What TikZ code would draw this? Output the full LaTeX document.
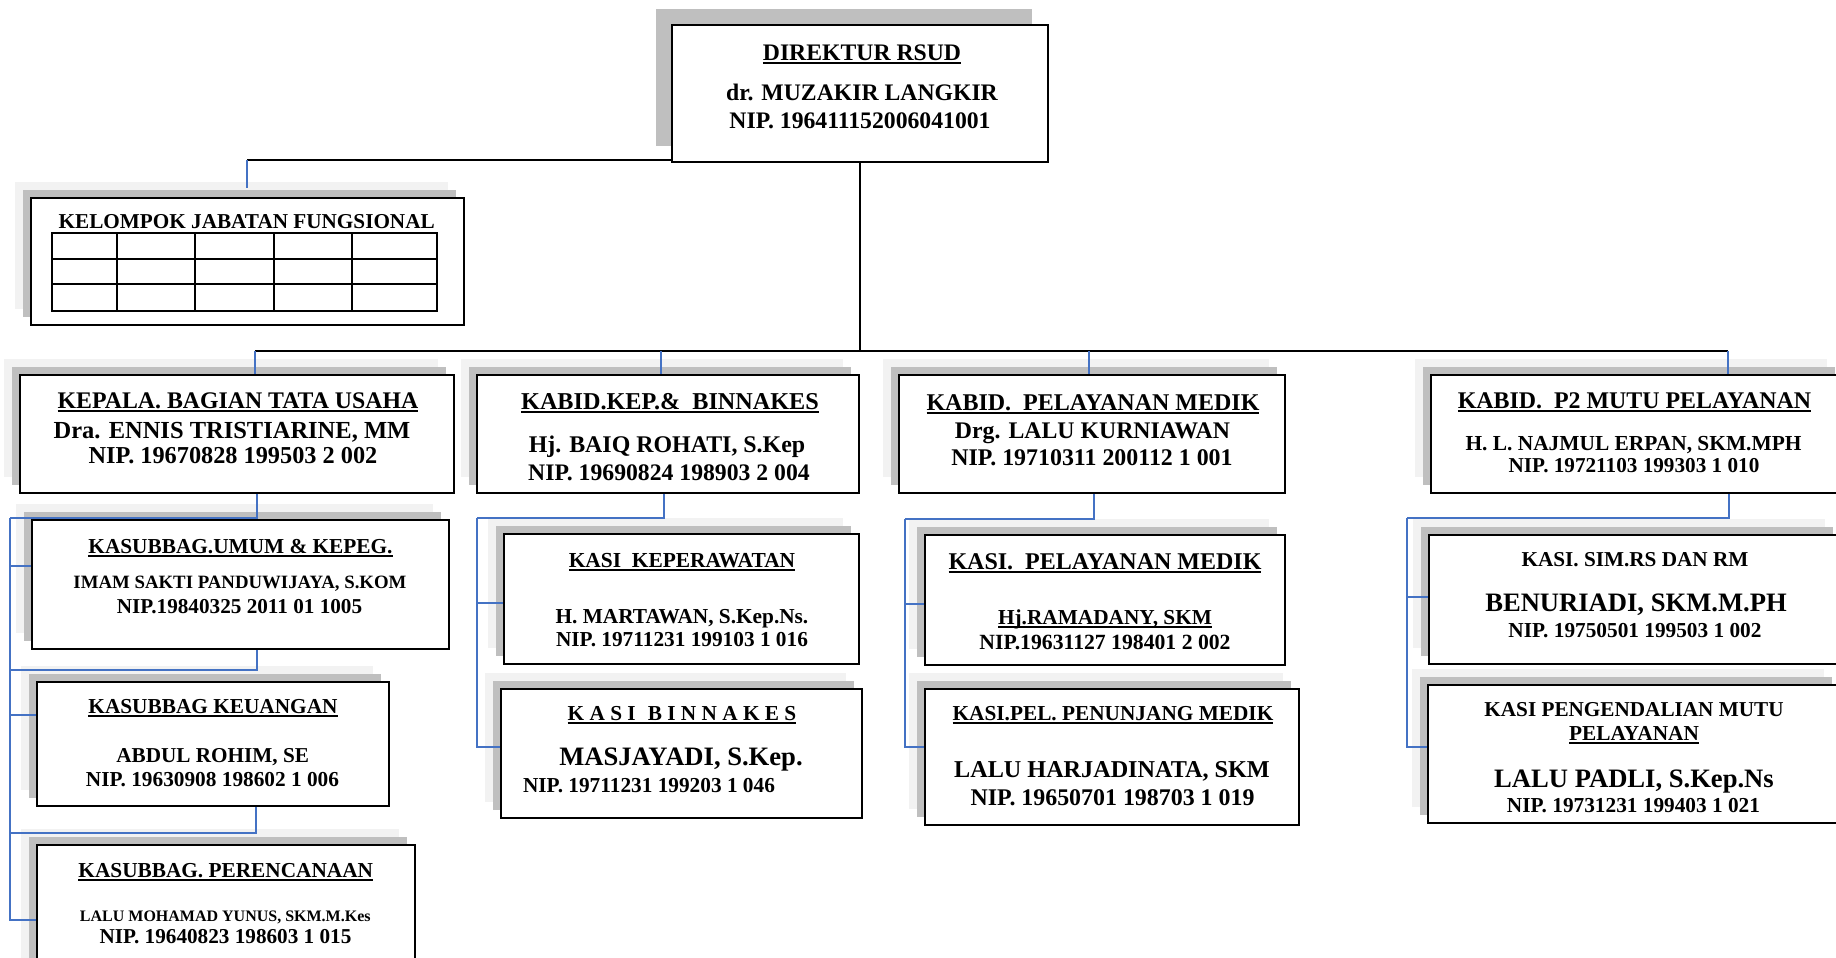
\documentclass[tikz,border=0pt]{standalone}
\usepackage{fontspec}
\setmainfont{Liberation Serif}
\usetikzlibrary{shadows}
\definecolor{shadelight}{HTML}{F2F2F2}
\definecolor{shadedark}{HTML}{BFBFBF}
\definecolor{linkblue}{HTML}{4472C4}
\tikzstyle{box} = [draw, line width=1.6pt, fill=white, inner sep=0pt,
    general shadow={fill=shadelight, shadow xshift=-16pt, shadow yshift=16pt},
    general shadow={fill=shadedark, shadow xshift=-8pt, shadow yshift=8pt}]
\tikzstyle{dirbox} = [draw, line width=1.6pt, fill=white, inner sep=0pt,
    general shadow={fill=shadedark, shadow xshift=-16pt, shadow yshift=16pt}]
\tikzstyle{txt} = [anchor=base, inner sep=0pt, font=\bfseries]
\tikzstyle{link} = [draw=linkblue, line width=1.8pt]
\tikzstyle{trunk} = [draw=black, line width=2pt]
\newcommand\fs[1]{\fontsize{#1}{#1}\selectfont}
\newcommand\undl[1]{\setbox0\hbox{#1}\rlap{\rule[-3.5pt]{\wd0}{1.6pt}}\box0}

\begin{document}
\begin{tikzpicture}[x=1pt, y=-1pt]
    \useasboundingbox (0,0) rectangle (1836,958);
    % boxes
    \node[dirbox, minimum width=376pt, minimum height=137pt] (dir) at (860,93.5) {};
    \node[box, minimum width=433pt, minimum height=127pt] (kjf) at (247.5,261.5) {};
    \node[box, minimum width=434pt, minimum height=118pt] (tu) at (237,434) {};
    \node[box, minimum width=382pt, minimum height=118pt] (kep) at (668,434) {};
    \node[box, minimum width=386pt, minimum height=118pt] (pm) at (1092,434) {};
    \node[box, minimum width=412pt, minimum height=118pt] (ptwo) at (1637,434) {};
    \node[box, minimum width=417pt, minimum height=129pt] (umum) at (240.5,584.5) {};
    \node[box, minimum width=352pt, minimum height=124pt] (keu) at (213,744) {};
    \node[box, minimum width=378pt, minimum height=130pt] (ren) at (226,910) {};
    \node[box, minimum width=355pt, minimum height=130pt] (kper) at (681.5,599) {};
    \node[box, minimum width=361pt, minimum height=129pt] (binn) at (681.5,753.5) {};
    \node[box, minimum width=360pt, minimum height=130pt] (pmed) at (1105,600) {};
    \node[box, minimum width=374pt, minimum height=136pt] (pen) at (1112,757) {};
    \node[box, minimum width=412pt, minimum height=129pt] (sim) at (1635,599.5) {};
    \node[box, minimum width=412pt, minimum height=138pt] (mutu) at (1634,754) {};

    % table of the functional group
    \draw[line width=1.6pt] (52,233) rectangle (437,311);
    \foreach \x in {117,195,274,352}
        \draw[line width=1.6pt] (\x,233) -- (\x,311);
    \foreach \y in {259,284}
        \draw[line width=1.6pt] (52,\y) -- (437,\y);

    % texts
    \node[txt] (dir-1) at (862,60) {\fs{23.7}\undl{DIREKTUR RSUD}};
    \node[txt] (dir-2) at (862,100) {\fs{23.7}dr. MUZAKIR LANGKIR};
    \node[txt] (dir-3) at (860,128) {\fs{23.7}NIP. 196411152006041001};
    \node[txt] (kjf-1) at (246.7,228) {\fs{21.2}KELOMPOK JABATAN FUNGSIONAL};

    \node[txt] (tu-1) at (238,408) {\fs{23.8}\undl{KEPALA. BAGIAN TATA USAHA}};
    \node[txt] (tu-2) at (232,438) {\fs{24.5}Dra. ENNIS TRISTIARINE, MM};
    \node[txt] (tu-3) at (233,463) {\fs{24.3}NIP. 19670828 199503 2 002};
    \node[txt] (kep-1) at (670,409) {\fs{24.2}\undl{KABID.KEP.\&\ \ BINNAKES}};
    \node[txt] (kep-2) at (667,452) {\fs{23.9}Hj. BAIQ ROHATI, S.Kep};
    \node[txt] (kep-3) at (669,480) {\fs{23.7}NIP. 19690824 198903 2 004};
    \node[txt] (pm-1) at (1093,410) {\fs{24}\undl{KABID.\ \ PELAYANAN MEDIK}};
    \node[txt] (pm-2) at (1092.5,438) {\fs{23.8}Drg. LALU KURNIAWAN};
    \node[txt] (pm-3) at (1092,465) {\fs{23.9}NIP. 19710311 200112 1 001};
    \node[txt] (ptwo-1) at (1634.5,408) {\fs{23.9}\undl{KABID.\ \ P2 MUTU PELAYANAN}};
    \node[txt] (ptwo-2) at (1633.5,450) {\fs{21.4}H. L. NAJMUL ERPAN, SKM.MPH};
    \node[txt] (ptwo-3) at (1634,472) {\fs{21.2}NIP. 19721103 199303 1 010};

    \node[txt] (umum-1) at (240.5,553) {\fs{21.3}\undl{KASUBBAG.UMUM \& KEPEG.}};
    \node[txt] (umum-2) at (240,588) {\fs{18.8}IMAM SAKTI PANDUWIJAYA, S.KOM};
    \node[txt] (umum-3) at (239.5,613) {\fs{21.2}NIP.19840325 2011 01 1005};
    \node[txt] (keu-1) at (213,713) {\fs{21.3}\undl{KASUBBAG KEUANGAN}};
    \node[txt] (keu-2) at (212.7,762) {\fs{21.2}ABDUL ROHIM, SE};
    \node[txt] (keu-3) at (212.5,786) {\fs{21.3}NIP. 19630908 198602 1 006};
    \node[txt] (ren-1) at (225.8,877) {\fs{21.3}\undl{KASUBBAG. PERENCANAAN}};
    \node[txt] (ren-2) at (225.3,921) {\fs{16}LALU MOHAMAD YUNUS, SKM.M.Kes};
    \node[txt] (ren-3) at (225.5,943) {\fs{21.2}NIP. 19640823 198603 1 015};

    \node[txt] (kper-1) at (682,567) {\fs{21.4}\undl{KASI\ \ KEPERAWATAN}};
    \node[txt] (kper-2) at (682,623) {\fs{21.3}H. MARTAWAN, S.Kep.Ns.};
    \node[txt] (kper-3) at (682,646) {\fs{21.3}NIP. 19711231 199103 1 016};
    \node[txt] (binn-1) at (682,720) {\fs{21.3}\undl{K A S I\hspace{12pt}B I N N A K E S}};
    \node[txt] (binn-2) at (681,765) {\fs{26.6}MASJAYADI, S.Kep.};
    \node[txt] (binn-3) at (649,792) {\fs{21.3}NIP. 19711231 199203 1 046};

    \node[txt] (pmed-1) at (1105,569) {\fs{24}\undl{KASI.\ \ PELAYANAN MEDIK}};
    \node[txt] (pmed-2) at (1105,624) {\fs{21.3}\undl{Hj.RAMADANY, SKM}};
    \node[txt] (pmed-3) at (1105,649) {\fs{21.7}NIP.19631127 198401 2 002};
    \node[txt] (pen-1) at (1113,720) {\fs{21.3}\undl{KASI.PEL. PENUNJANG MEDIK}};
    \node[txt] (pen-2) at (1112,777) {\fs{24.2}LALU HARJADINATA, SKM};
    \node[txt] (pen-3) at (1112.5,805) {\fs{23.9}NIP. 19650701 198703 1 019};

    \node[txt] (sim-1) at (1635,566) {\fs{21.2}KASI. SIM.RS DAN RM};
    \node[txt] (sim-2) at (1636,611) {\fs{26.6}BENURIADI, SKM.M.PH};
    \node[txt] (sim-3) at (1635,637) {\fs{21.3}NIP. 19750501 199503 1 002};
    \node[txt] (mutu-1) at (1634,716) {\fs{21.2}KASI PENGENDALIAN MUTU};
    \node[txt] (mutu-2) at (1634,740) {\fs{21.3}\undl{PELAYANAN}};
    \node[txt] (mutu-3) at (1634,787) {\fs{26.6}LALU PADLI, S.Kep.Ns};
    \node[txt] (mutu-4) at (1633.5,812) {\fs{21.3}NIP. 19731231 199403 1 021};

    % top level lines
    \coordinate (hl) at (255,351);
    \coordinate (hk) at (661,351);
    \coordinate (hp) at (1089,351);
    \coordinate (hr) at (1728,351);
    \coordinate (kj) at (247,160);
    \coordinate (kjend) at (247,188);
    \draw[trunk] (dir.south) -- (dir.south |- hl);
    \draw[trunk] (hl) -- (hr);
    \draw[black, line width=1.2pt] (kj) -- (kj -| dir.west);
    \draw[link] (kj) -- (kjend);
    \draw[link] (hl) -- (hl |- tu.north);
    \draw[link] (hk) -- (hk |- kep.north);
    \draw[link] (hp) -- (hp |- pm.north);
    \draw[link] (hr) -- (hr |- ptwo.north);

    % tata usaha column
    \coordinate (a0) at (257,518);
    \coordinate (a1) at (10,518);
    \draw[link] (tu.south -| a0) -- (a0) -- (a1);
    \draw[link] ([yshift=18.5pt]umum.west) -| (a1);
    \draw[link] ([yshift=29pt]keu.west) -| (a1);
    \draw[link] ([yshift=-10pt]ren.west) -| (a1);
    \draw[link] ([xshift=16.5pt]umum.south) -- ++(0,20) -| (a1);
    \draw[link] ([xshift=43pt]keu.south) -- ++(0,26) -| (a1);

    % keperawatan column
    \coordinate (b0) at (664,518);
    \coordinate (b1) at (477,518);
    \draw[link] (kep.south -| b0) -- (b0) -- (b1);
    \draw[link] ([yshift=-4pt]kper.west) -| (b1);
    \draw[link] ([yshift=6.5pt]binn.west) -| (b1);

    % pelayanan medik column
    \coordinate (c0) at (1094,519);
    \coordinate (c1) at (905,519);
    \draw[link] (pm.south -| c0) -- (c0) -- (c1);
    \draw[link] ([yshift=-4pt]pmed.west) -| (c1);
    \draw[link] ([yshift=10pt]pen.west) -| (c1);

    % mutu column
    \coordinate (d0) at (1729,518);
    \coordinate (d1) at (1407,518);
    \draw[link] (ptwo.south -| d0) -- (d0) -- (d1);
    \draw[link] ([yshift=2.5pt]sim.west) -| (d1);
    \draw[link] ([yshift=7pt]mutu.west) -| (d1);
\end{tikzpicture}
\end{document}
